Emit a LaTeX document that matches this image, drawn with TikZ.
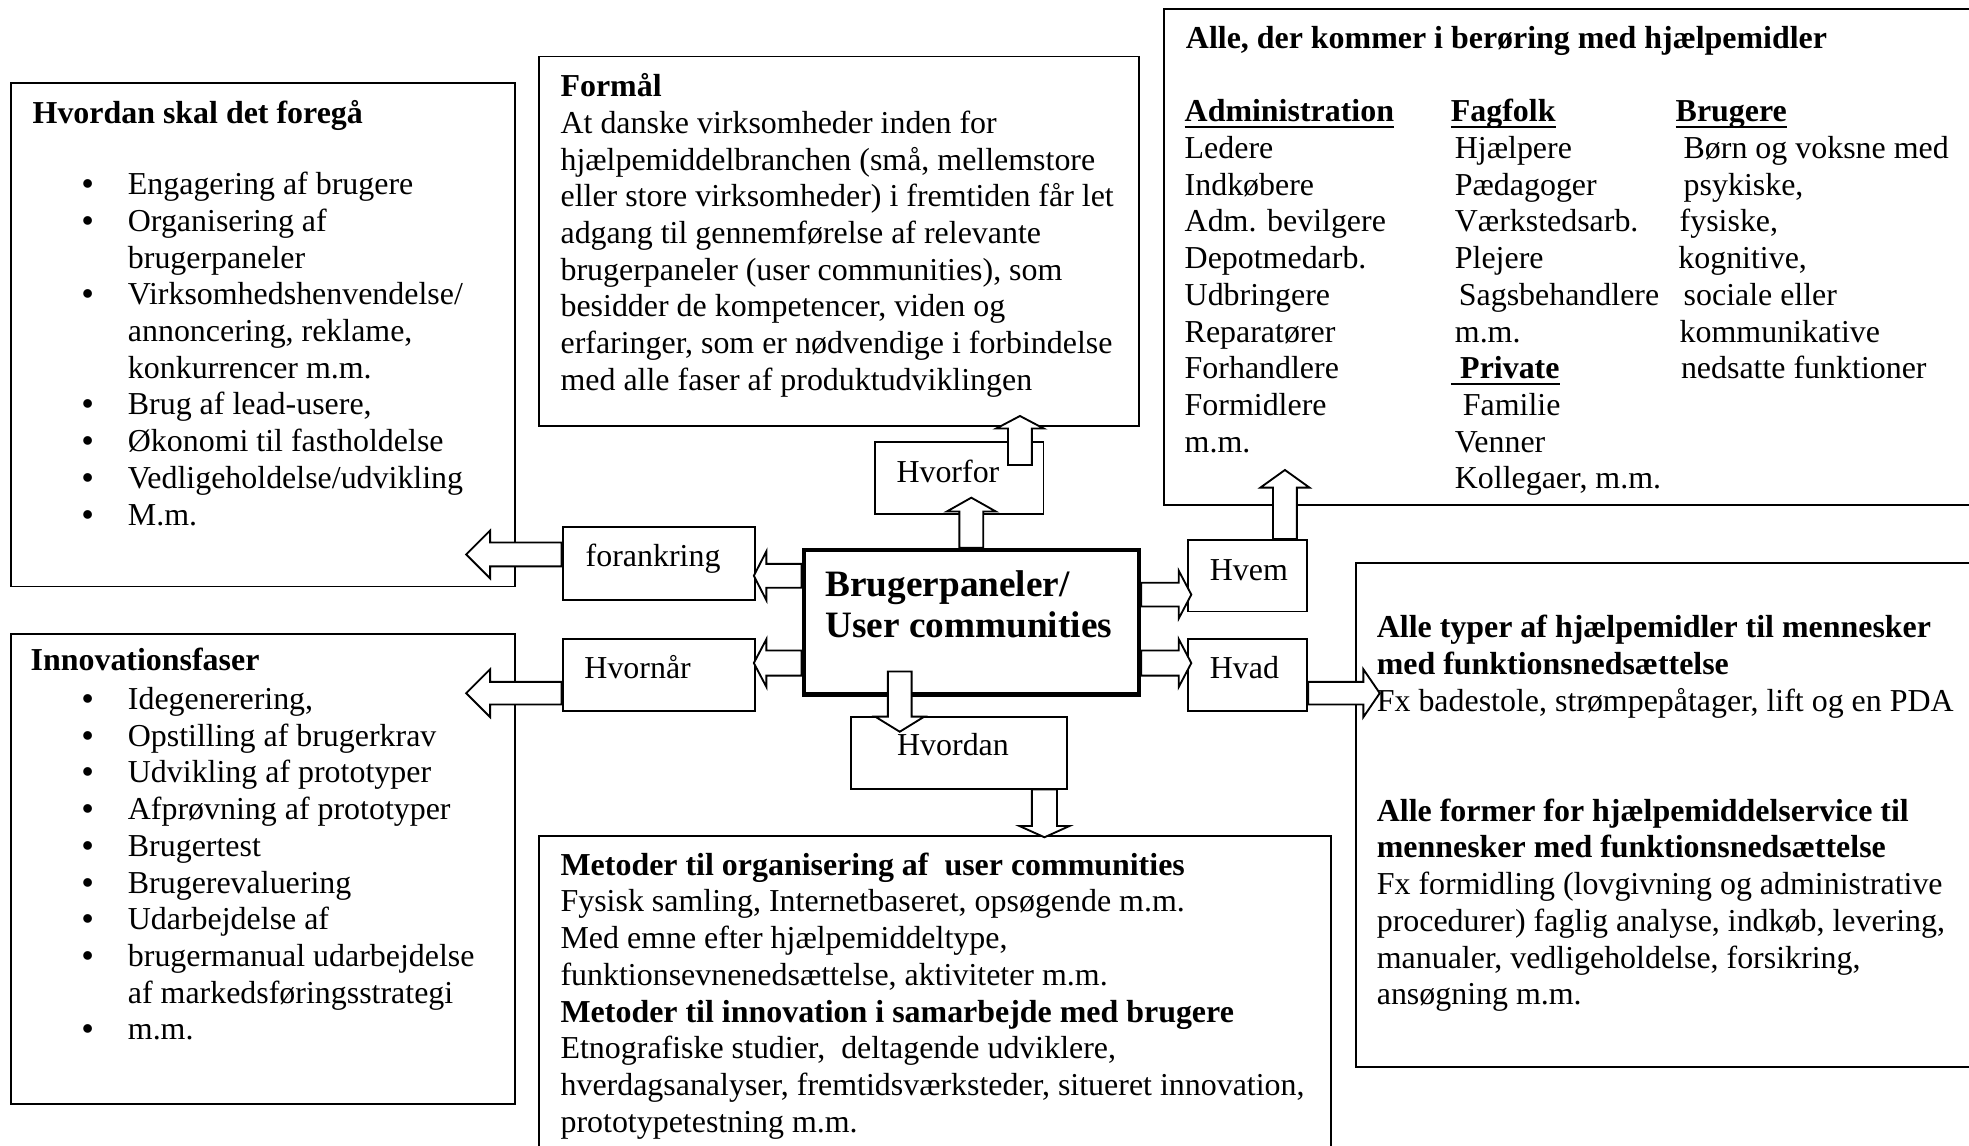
\documentclass[tikz,border=0pt]{standalone}
\usepackage{fontspec}
\setmainfont{Liberation Serif}
\usetikzlibrary{calc,fit}
\newcommand{\myul}[1]{\setbox0\hbox{#1}\rlap{\rule[-2.4pt]{\wd0}{0.8pt}}\box0}
\newcommand{\txtblk}[1]{\begin{tabular}[t]{@{}l@{}}#1\end{tabular}}
\newcommand{\bullblk}[1]{\begin{tabular}[t]{@{}p{17.2pt}@{}l@{}}#1\end{tabular}}
\newcommand{\bul}{\textbf{•}}
% #1 base point, #2 angle, #3 length, #4 shaft half width, #5 head half width, #6 head length
\newcommand{\barrow}[6]{%
  \begin{scope}[shift={#1}, rotate=#2]
    \draw[blockarrow] (0,-#4) -- (#3-#6,-#4) -- (#3-#6,-#5) -- (#3,0) -- (#3-#6,#5) -- (#3-#6,#4) -- (0,#4) -- cycle;
  \end{scope}}
\begin{document}
\begin{tikzpicture}[x=0.472pt,y=-0.472pt,
  box/.style={draw, line width=0.7pt, inner sep=0pt},
  mainbox/.style={draw, line width=1.6pt, inner sep=0pt},
  blockarrow/.style={draw, fill=white, line width=0.7pt, line join=miter},
  txt/.style={anchor=base west, inner sep=0pt, font=\fontsize{12}{13.8}\selectfont},
  bigtxt/.style={anchor=base west, inner sep=0pt, font=\fontsize{14}{15.6}\selectfont\bfseries}]
\useasboundingbox (0,0) rectangle (1568,912);
\fill[white] (0,0) rectangle (1568,912);
\clip (0,0) rectangle (1568,912);

% boxes
\node[box, fit={(9,66) (410,467)}] (hows) {};
\node[box, fit={(429,45) (907,339)}] (formaal) {};
\node[box, fit={(927,7) (1600,402)}] (alle) {};
\node[box, fit={(9,505) (410,879)}] (innov) {};
\node[box, fit={(429,666) (1060,940)}] (metoder) {};
\node[box, fit={(1080,448) (1600,850)}] (typer) {};
\node[mainbox, fit={(640,438) (907,553)}] (ctr) {};
\node[box, fit={(697,352) (831,409)}] (hvorfor) {};
\node[box, fit={(448,420) (601,478)}] (forankring) {};
\node[box, fit={(448,509) (601,566)}] (hvornaar) {};
\node[box, fit={(946,430) (1041,487)}] (hvem) {};
\node[box, fit={(946,509) (1041,566)}] (hvad) {};
\node[box, fit={(678,571) (850,628)}] (hvordan) {};

% block arrows
\barrow{(ctr.north)}{90}{40}{9.5}{19.5}{11}
\barrow{($(hvorfor.north east)+(-19.5,19)$)}{90}{39}{9.5}{19}{10}
\barrow{($(ctr.west)+(0,-37)$)}{180}{38}{9.5}{19.5}{10}
\barrow{($(ctr.west)+(0,32.5)$)}{180}{38}{10}{19}{10}
\barrow{($(ctr.east)+(0,-22)$)}{0}{40}{9.5}{19}{10}
\barrow{($(ctr.east)+(0,32.5)$)}{0}{40}{10}{19}{10}
\barrow{($(ctr.south)+(-57,-20)$)}{270}{48}{9.5}{19.5}{12}
\barrow{($(hvordan.south east)+(-19,0)$)}{270}{38}{10}{20}{9}
\barrow{($(hvem.north east)+(-18.5,0)$)}{90}{55}{9.5}{19.5}{14}
\barrow{($(hvad.east)+(0,14.5)$)}{0}{57}{9}{19}{13}
\barrow{($(forankring.west)+(0,-7.5)$)}{180}{76}{9.5}{19}{19}
\barrow{($(hvornaar.west)+(0,14.5)$)}{180}{76}{9}{19}{19}

% texts: Box A
\node[txt] (howsT) at (25.6,98) {\textbf{Hvordan skal det foregå}};
\node[txt] (howsL) at (65,155) {\bullblk{%
\bul & Engagering af brugere\\
\bul & Organisering af\\
  & brugerpaneler\\
\bul & Virksomhedshenvendelse/\\
  & annoncering, reklame,\\
  & konkurrencer m.m.\\
\bul & Brug af lead-usere,\\
\bul & Økonomi til fastholdelse\\
\bul & Vedligeholdelse/udvikling\\
\bul & M.m.}};

% Box D
\node[txt] (innovT) at (24,534) {\textbf{Innovationsfaser}};
\node[txt] (innovL) at (65,565) {\bullblk{%
\bul & Idegenerering,\\
\bul & Opstilling af brugerkrav\\
\bul & Udvikling af prototyper\\
\bul & Afprøvning af prototyper\\
\bul & Brugertest\\
\bul & Brugerevaluering\\
\bul & Udarbejdelse af\\
\bul & brugermanual udarbejdelse\\
  & af markedsføringsstrategi\\
\bul & m.m.}};

% Box B
\node[txt] (formaalT) at (446,77) {\txtblk{%
\textbf{Formål}\\
At danske virksomheder inden for\\
hjælpemiddelbranchen (små, mellemstore\\
eller store virksomheder) i fremtiden får let\\
adgang til gennemførelse af relevante\\
brugerpaneler (user communities), som\\
besidder de kompetencer, viden og\\
erfaringer, som er nødvendige i forbindelse\\
med alle faser af produktudviklingen}};

% Box C
\node[txt] (alleT) at (944,39) {\textbf{Alle, der kommer i berøring med hjælpemidler}};
\node[txt] (alleA) at (943,97) {\txtblk{%
\myul{\textbf{Administration}}\\
Ledere\\
Indkøbere\\
Adm. bevilgere\\
Depotmedarb.\\
Udbringere\\
Reparatører\\
Forhandlere\\
Formidlere\\
m.m.}};
\node[txt] (alleB) at (1155,97) {\txtblk{%
\myul{\textbf{Fagfolk}}\\
\hspace{1.5pt}Hjælpere\\
\hspace{1.5pt}Pædagoger\\
\hspace{1.5pt}Værkstedsarb.\\
\hspace{1.5pt}Plejere\\
\hspace{3pt}Sagsbehandlere\\
\hspace{1.5pt}m.m.\\
\myul{\hspace{3.5pt}\textbf{Private}}\\
\hspace{4.5pt}Familie\\
\hspace{1.5pt}Venner\\
\hspace{1.5pt}Kollegaer, m.m.}};
\node[txt] (alleC) at (1334,97) {\txtblk{%
\myul{\textbf{Brugere}}\\
\hspace{3pt}Børn og voksne med\\
\hspace{3pt}psykiske,\\
\hspace{1.5pt}fysiske,\\
\hspace{1pt}kognitive,\\
\hspace{3pt}sociale eller\\
\hspace{1.5pt}kommunikative\\
\hspace{2pt}nedsatte funktioner}};

% Box E
\node[txt] (metoderT) at (446,697) {\txtblk{%
\textbf{Metoder til organisering af \ user communities}\\
Fysisk samling, Internetbaseret, opsøgende m.m.\\
Med emne efter hjælpemiddeltype,\\
funktionsevnenedsættelse, aktiviteter m.m.\\
\textbf{Metoder til innovation i samarbejde med brugere}\\
Etnografiske studier, \ deltagende udviklere,\\
hverdagsanalyser, fremtidsværksteder, situeret innovation,\\
prototypetestning m.m.}};

% Box F
\node[txt] (typerA) at (1096,508) {\txtblk{%
\textbf{Alle typer af hjælpemidler til mennesker}\\
\textbf{med funktionsnedsættelse}\\
Fx badestole, strømpepåtager, lift og en PDA}};
\node[txt] (typerB) at (1096,654) {\txtblk{%
\textbf{Alle former for hjælpemiddelservice til}\\
\textbf{mennesker med funktionsnedsættelse}\\
Fx formidling (lovgivning og administrative\\
procedurer) faglig analyse, indkøb, levering,\\
manualer, vedligeholdelse, forsikring,\\
ansøgning m.m.}};

% centre and small labels
\node[bigtxt] (ctrT) at (657,475) {\begin{tabular}[t]{@{}l@{}}Brugerpaneler/\\User communities\end{tabular}};
\node[txt] (hvorforT) at (713.5,384) {Hvorfor};
\node[txt] (forankringT) at (466,451) {forankring};
\node[txt] (hvornaarT) at (465,540) {Hvornår};
\node[txt] (hvemT) at (963,462) {Hvem};
\node[txt] (hvadT) at (963,540) {Hvad};
\node[txt] (hvordanT) at (714,602) {Hvordan};
\end{tikzpicture}
\end{document}
